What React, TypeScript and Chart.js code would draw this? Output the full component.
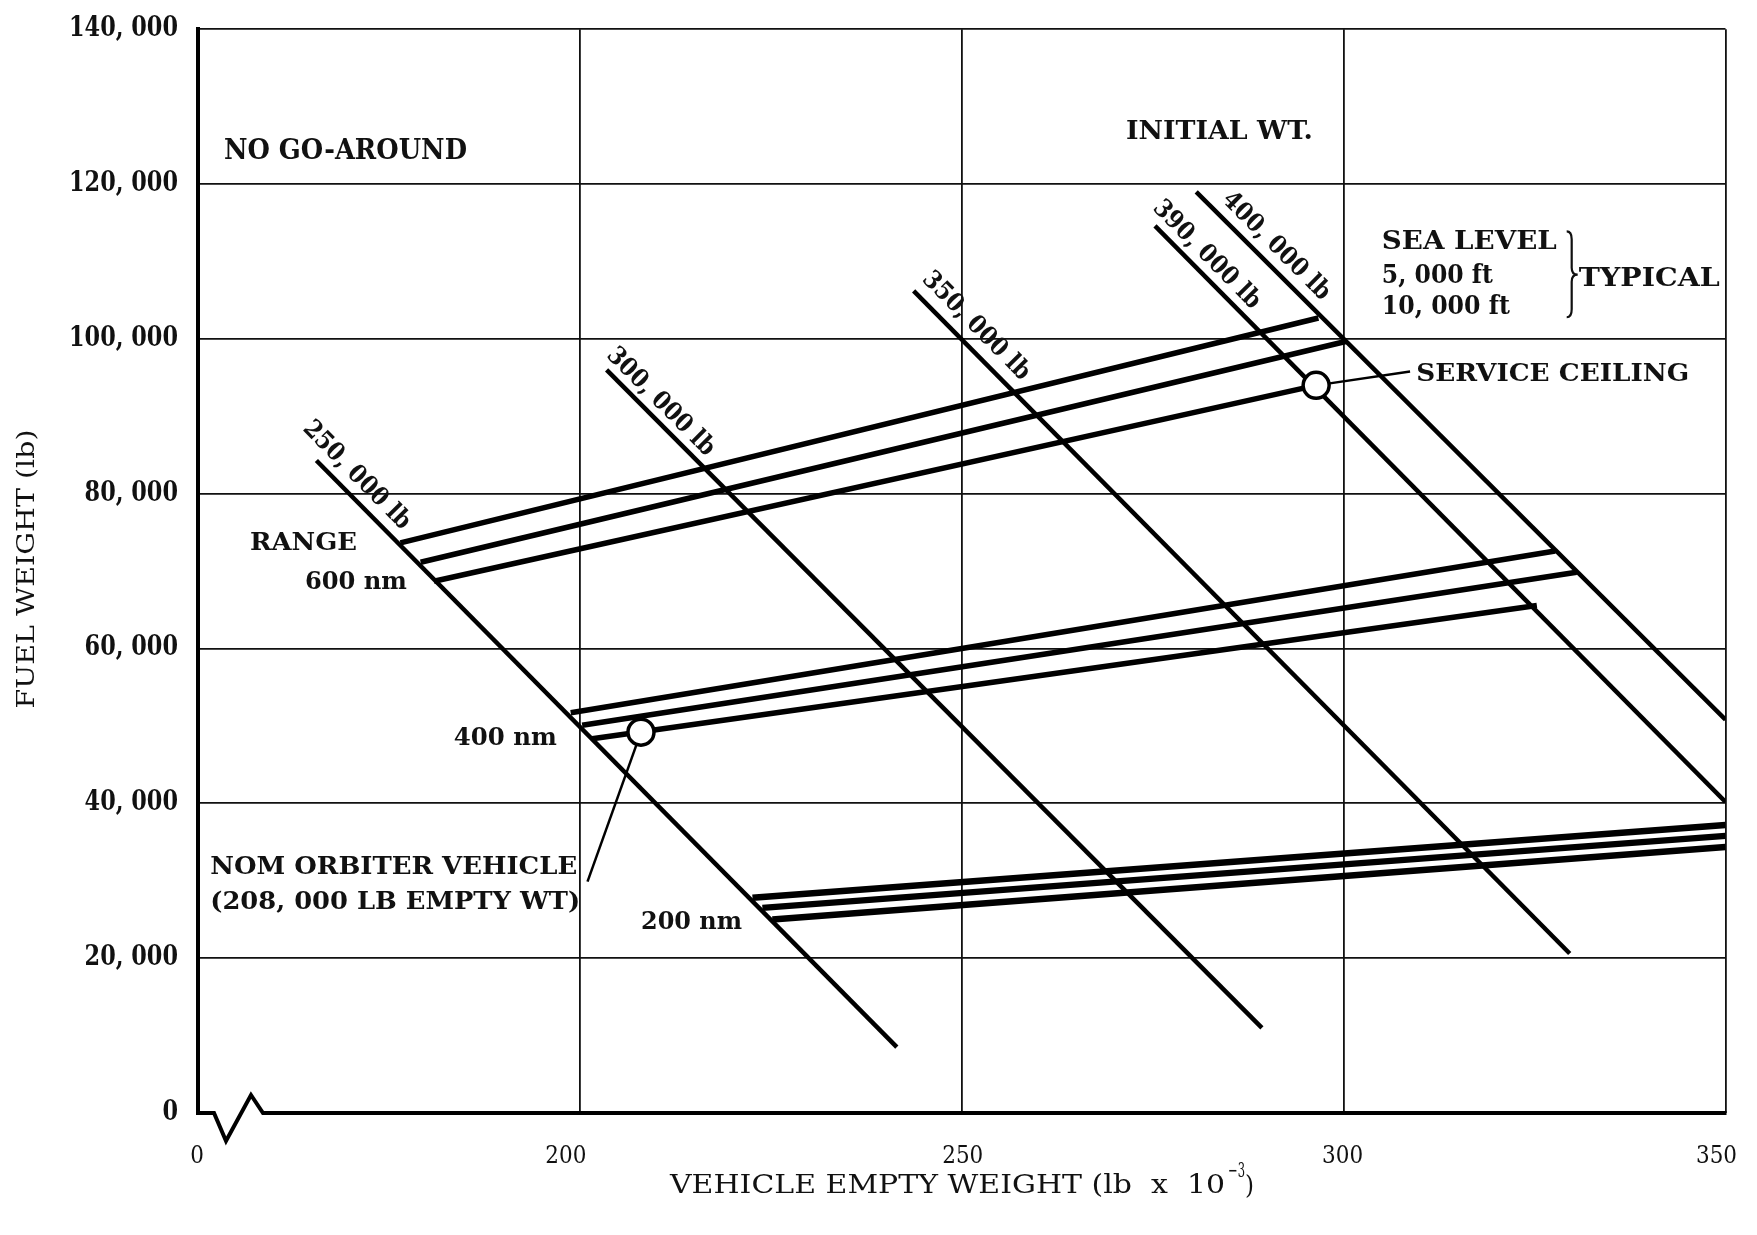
import React, { useEffect, useRef } from 'react';
import { Chart, registerables } from 'chart.js';

Chart.register(...registerables);

// ---------- data ----------
const xTickValues = [150, 200, 250, 300, 350];
const xTickLabels = ['0', '200', '250', '300', '350'];
const yTickValues = [0, 20000, 40000, 60000, 80000, 100000, 120000, 140000];
const yTickLabels = ['0', '20, 000', '40, 000', '60, 000', '80, 000', '100, 000', '120, 000', '140, 000'];

// constant initial weight lines: [empty wt (lb x 10^-3), fuel wt (lb)]
const initialWtLabels = ['250, 000 lb', '300, 000 lb', '350, 000 lb', '390, 000 lb', '400, 000 lb'];
const initialWtStart = [[165.5, 84300], [203.5, 96000], [243.7, 106200], [275.3, 114600], [280.7, 119000]];
const initialWtEnd = [[241.5, 8500], [289.3, 11000], [329.6, 20600], [350, 40200], [350, 50800]];
const initialWtLabelAt = [[171.0, 82600], [210.8, 92100], [252.1, 101900], [282.3, 111100], [291.4, 112200]];

// range lines (sea level, 5,000 ft, 10,000 ft)
const range600Start = [[176.5, 73650], [179.15, 71150], [180.9, 68700]];
const range600End = [[296.7, 102700], [300.4, 99700], [296.4, 94000]];
const range400Start = [[198.8, 51700], [200.3, 50100], [201.6, 48350]];
const range400End = [[327.7, 72600], [330.5, 69850], [325.3, 65550]];
const range200Start = [[222.6, 27800], [223.9, 26500], [225.2, 25000]];
const range200End = [[350, 37200], [350, 35800], [350, 34350]];

// marked points
const serviceCeilingPt = [296.4, 94000];
const nomOrbiterPt = [208.0, 49200];
const serviceLeaderEnd = [308.7, 95800];
const nomLeaderEnd = [201.0, 29900];

// ---------- annotation layout ----------
const FONT = "'DejaVu Serif', serif";
const CAP = 0.729;
const NOTES = [
  { t: 'NO GO-AROUND', x: 153.4, y: 124500, w: 243, s: 27 },
  { t: 'INITIAL WT.', x: 271.5, y: 127000, w: 187, s: 26 },
  { t: 'SEA LEVEL', x: 305.0, y: 112900, w: 175, s: 26 },
  { t: '5, 000 ft', x: 305.0, y: 108500, w: 111, s: 26 },
  { t: '10, 000 ft', x: 305.0, y: 104500, w: 128, s: 26 },
  { t: 'TYPICAL', x: 330.8, y: 108000, w: 141, s: 26 },
  { t: 'SERVICE CEILING', x: 309.5, y: 95800, w: 273, s: 25 },
  { t: 'RANGE', x: 156.8, y: 73900, w: 107, s: 25 },
  { t: '600 nm', x: 164.0, y: 68900, w: 102, s: 25 },
  { t: '400 nm', x: 183.5, y: 48700, w: 103, s: 25 },
  { t: '200 nm', x: 208.0, y: 24950, w: 101, s: 25 },
  { t: 'NOM ORBITER VEHICLE', x: 151.6, y: 32100, w: 367, s: 25 },
  { t: '(208, 000 LB EMPTY WT)', x: 151.6, y: 27500, w: 370, s: 25 },
];
// small horizontal nudges of the x tick labels, as printed in the original
const xTickNudge = [-1, -14, 1, -1, -9];

function drawTxt(ctx: CanvasRenderingContext2D, s: string, x: number, cy: number, size: number, bold: boolean, opts: { w?: number; sx?: number; align?: CanvasTextAlign; rot?: number } = {}) {
  ctx.save();
  ctx.font = `${bold ? 'bold ' : ''}${size}px ${FONT}`;
  const m = ctx.measureText(s).width;
  const sx = opts.sx ?? (opts.w ? opts.w / m : 1);
  ctx.translate(x, cy);
  if (opts.rot) ctx.rotate(opts.rot);
  ctx.scale(sx, 1);
  ctx.textAlign = opts.align ?? 'left';
  ctx.textBaseline = 'alphabetic';
  ctx.fillStyle = '#111';
  ctx.fillText(s, 0, (size * CAP) / 2);
  ctx.restore();
}

const seg = (a: number[], b: number[]) => [{ x: a[0], y: a[1] }, { x: b[0], y: b[1] }];

const decorations = {
  id: 'decorations',
  afterDraw(chart: any) {
    const ctx: CanvasRenderingContext2D = chart.ctx;
    const xs = chart.scales.x;
    const ys = chart.scales.y;
    const { left, right, bottom } = chart.chartArea;
    const px = (v: number) => xs.getPixelForValue(v);
    const py = (v: number) => ys.getPixelForValue(v);

    // bottom axis with break symbol
    ctx.save();
    ctx.strokeStyle = '#000';
    ctx.lineWidth = 4;
    ctx.lineJoin = 'miter';
    ctx.beginPath();
    ctx.moveTo(left - 2, bottom);
    ctx.lineTo(left + 16, bottom);
    ctx.lineTo(left + 28, bottom + 28);
    ctx.lineTo(left + 53, bottom - 18);
    ctx.lineTo(left + 65, bottom);
    ctx.lineTo(right + 1, bottom);
    ctx.stroke();
    ctx.restore();

    // y tick labels
    ctx.save();
    ctx.font = `bold 27px ${FONT}`;
    const ySx = 109 / ctx.measureText('140, 000').width;
    ctx.restore();
    yTickValues.forEach((v, i) => {
      drawTxt(ctx, yTickLabels[i], left - 20, py(v) - 3, 27, true, { sx: ySx, align: 'right' });
    });
    // x tick labels
    xTickValues.forEach((v, i) => {
      drawTxt(ctx, xTickLabels[i], px(v) + xTickNudge[i], bottom + 41, 25, false, { sx: 0.86, align: 'center' });
    });

    // axis titles
    drawTxt(ctx, 'FUEL WEIGHT (lb)', 25, 569, 25, false, { w: 279, align: 'center', rot: -Math.PI / 2 });
    drawTxt(ctx, 'VEHICLE EMPTY WEIGHT (lb  x  10', 670, 1184, 26, false, { w: 555 });
    drawTxt(ctx, '\u22123', 1228, 1170, 20, false, { w: 17 });
    drawTxt(ctx, ')', 1245, 1185, 26, false, { w: 9 });

    // initial weight labels along the lines
    initialWtLabels.forEach((t, i) => {
      const a = initialWtStart[i], b = initialWtEnd[i];
      const rot = Math.atan2(py(b[1]) - py(a[1]), px(b[0]) - px(a[0]));
      const c = initialWtLabelAt[i];
      drawTxt(ctx, t, px(c[0]), py(c[1]), 25, true, { w: 142, align: 'center', rot });
    });

    // notes
    NOTES.forEach((n) => drawTxt(ctx, n.t, px(n.x), py(n.y), n.s, true, { w: n.w }));

    // brace
    const bx = px(329.6), yt = py(113900), yb = py(102800), ym = py(108300);
    ctx.save();
    ctx.strokeStyle = '#111';
    ctx.lineWidth = 2.2;
    ctx.beginPath();
    ctx.moveTo(bx - 3, yt);
    ctx.quadraticCurveTo(bx + 2, yt, bx + 2, yt + 8);
    ctx.lineTo(bx + 2, ym - 7);
    ctx.quadraticCurveTo(bx + 2, ym, bx + 8, ym);
    ctx.quadraticCurveTo(bx + 2, ym, bx + 2, ym + 7);
    ctx.lineTo(bx + 2, yb - 8);
    ctx.quadraticCurveTo(bx + 2, yb, bx - 3, yb);
    ctx.stroke();
    ctx.restore();
  },
};

function lineDs(data: any[], width: number, order = 2) {
  return {
    type: 'line',
    data,
    borderColor: '#000',
    borderWidth: width,
    pointRadius: 0,
    fill: false,
    tension: 0,
    order,
  };
}

export default function App() {
  const ref = useRef<HTMLCanvasElement>(null);
  useEffect(() => {
    if (!ref.current) return;
    const datasets: any[] = [];
    datasets.push({
      type: 'scatter',
      data: [
        { x: serviceCeilingPt[0], y: serviceCeilingPt[1] },
        { x: nomOrbiterPt[0], y: nomOrbiterPt[1] },
      ],
      pointRadius: 13,
      pointBackgroundColor: '#fff',
      pointBorderColor: '#000',
      pointBorderWidth: 3.5,
      showLine: false,
      order: 0,
    });
    datasets.push(lineDs(seg(serviceCeilingPt, serviceLeaderEnd), 2.5, 1));
    datasets.push(lineDs(seg(nomOrbiterPt, nomLeaderEnd), 2.5, 1));
    initialWtStart.forEach((a, i) => datasets.push(lineDs(seg(a, initialWtEnd[i]), 4.5)));
    range600Start.forEach((a, i) => datasets.push(lineDs(seg(a, range600End[i]), 5.5)));
    range400Start.forEach((a, i) => datasets.push(lineDs(seg(a, range400End[i]), 5.5)));
    range200Start.forEach((a, i) => datasets.push(lineDs(seg(a, range200End[i]), 6.5)));

    const chart = new Chart(ref.current, {
      type: 'line',
      data: { datasets },
      options: {
        animation: false,
        responsive: false,
        maintainAspectRatio: false,
        devicePixelRatio: 1,
        layout: { padding: { left: 198, right: 31.5, top: 29.3, bottom: 122 } },
        plugins: { legend: { display: false }, tooltip: { enabled: false } },
        scales: {
          x: {
            type: 'linear',
            min: 150,
            max: 350,
            ticks: { display: false, stepSize: 50 },
            grid: { color: '#111', lineWidth: 1.8, drawTicks: false },
            border: { display: false },
          },
          y: {
            type: 'linear',
            min: 0,
            max: 140000,
            ticks: { display: false, stepSize: 20000 },
            grid: {
              color: (c: any) => (c.tick && c.tick.value === 0 ? 'rgba(0,0,0,0)' : '#111'),
              lineWidth: 1.8,
              drawTicks: false,
            },
            border: { display: true, color: '#000', width: 4 },
          },
        },
      } as any,
      plugins: [decorations],
    } as any);
    return () => chart.destroy();
  }, []);

  return (
    <div style={{ position: 'fixed', left: 0, top: 0, width: 1757, height: 1235, background: '#fff' }}>
      <canvas ref={ref} width={1757} height={1235} style={{ display: 'block' }} />
    </div>
  );
}
